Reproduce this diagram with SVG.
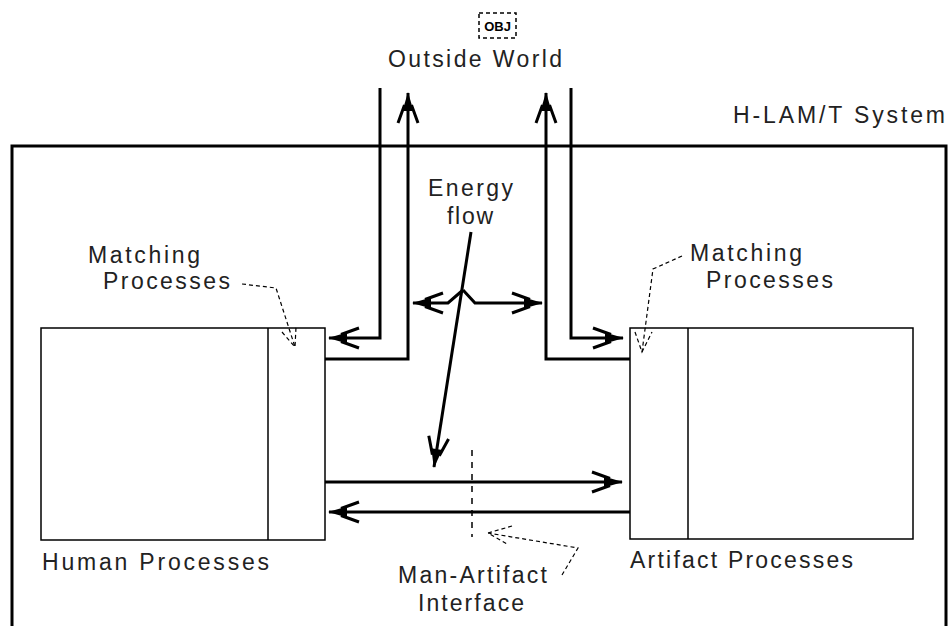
<svg xmlns="http://www.w3.org/2000/svg" width="949" height="626" viewBox="0 0 949 626">
<style>
  text { font-family: "Liberation Sans", Arial, sans-serif; font-size: 23px; fill: #222; }
  .obj { font-size: 13px; font-weight: bold; fill: #000; }
  .box { fill: #fff; stroke: #000; stroke-width: 1.5; }
  .sys { fill: none; stroke: #000; stroke-width: 3; }
  .flow { fill: none; stroke: #000; stroke-width: 3; }
  .lead { fill: none; stroke: #000; stroke-width: 1.2; stroke-dasharray: 4 3; }
  .iface { fill: none; stroke: #000; stroke-width: 1.5; stroke-dasharray: 6 6; }
</style>
<defs>
  <marker id="ah" markerUnits="userSpaceOnUse" markerWidth="40" markerHeight="30" viewBox="-32 -15 36 30" refX="0" refY="0" orient="auto" overflow="visible">
    <path d="M-30,-10 L-12,-3.5 M-30,10 L-12,3.5" stroke="#000" stroke-width="3" fill="none"/>
    <path d="M1,0 L-18,-5.5 L-18,5.5 Z" fill="#000"/>
  </marker>
</defs>
<rect width="949" height="626" fill="#fff"/>

<g id="outside-world">
  <rect x="479" y="13" width="37" height="25" fill="none" stroke="#000" stroke-width="1.5" stroke-dasharray="4 3"/>
  <text class="obj" x="497.5" y="30.5" text-anchor="middle">OBJ</text>
  <text x="388" y="67" textLength="174" lengthAdjust="spacing">Outside World</text>
</g>

<g id="hlamt-system">
  <rect class="sys" x="12" y="146" width="934" height="500"/>
  <text x="733" y="123" textLength="212" lengthAdjust="spacing">H-LAM/T System</text>
</g>

<g id="human-processes">
  <rect class="box" x="41" y="328" width="284" height="212"/>
  <line x1="268" y1="328" x2="268" y2="540" stroke="#000" stroke-width="1.5"/>
  <text x="42" y="570" textLength="227" lengthAdjust="spacing">Human Processes</text>
</g>

<g id="artifact-processes">
  <rect class="box" x="630" y="328" width="283" height="211"/>
  <line x1="688" y1="328" x2="688" y2="539" stroke="#000" stroke-width="1.5"/>
  <text x="630" y="568" textLength="223" lengthAdjust="spacing">Artifact Processes</text>
</g>

<g id="matching-left">
  <text x="88" y="263" textLength="112" lengthAdjust="spacing">Matching</text>
  <text x="103" y="289" textLength="127" lengthAdjust="spacing">Processes</text>
</g>

<g id="matching-right">
  <text x="690" y="261" textLength="112" lengthAdjust="spacing">Matching</text>
  <text x="706" y="288" textLength="127" lengthAdjust="spacing">Processes</text>
</g>

<g id="energy-flow">
  <text x="428" y="196" textLength="85" lengthAdjust="spacing">Energy</text>
  <text x="447" y="224" textLength="46" lengthAdjust="spacing">flow</text>
</g>

<g id="man-artifact-interface">
  <text x="398" y="583" textLength="149" lengthAdjust="spacing">Man-Artifact</text>
  <text x="418" y="611" textLength="106" lengthAdjust="spacing">Interface</text>
  <path class="iface" d="M472,450 L472,537"/>
</g>

<g id="connectors">
  <path class="flow" d="M380,88 L380,338 L329,338" marker-end="url(#ah)"/>
  <path class="flow" d="M325,359 L408,359 L408,93" marker-end="url(#ah)"/>
  <path class="flow" d="M630,359 L546,359 L546,93" marker-end="url(#ah)"/>
  <path class="flow" d="M571,88 L571,338 L623,338" marker-end="url(#ah)"/>
  <path class="flow" d="M325,482 L622,482" marker-end="url(#ah)"/>
  <path class="flow" d="M630,512 L329,512" marker-end="url(#ah)"/>
  <path class="flow" d="M471,232 L434,467" marker-end="url(#ah)"/>
  <path class="flow" d="M463,290 L448,303 L413,303" marker-end="url(#ah)"/>
  <path class="flow" d="M463,290 L475,303 L542,303" marker-end="url(#ah)"/>
  <path class="lead" d="M242,284 L276,288 L295,347"/>
  <path class="lead" d="M282,332 L295,347 L296,327"/>
  <path class="lead" d="M682,256 L653,269 L642,352"/>
  <path class="lead" d="M635,332 L642,352 L652,332"/>
  <path class="lead" d="M562,575 L578,548 L488,533"/>
  <path class="lead" d="M512,526 L488,533 L507,544"/>
</g>
</svg>
